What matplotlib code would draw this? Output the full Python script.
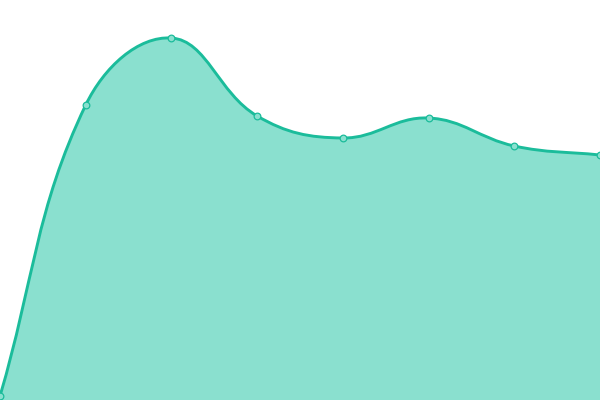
import numpy as np
import matplotlib
matplotlib.use('Agg')
import matplotlib.pyplot as plt
from matplotlib.path import Path
from matplotlib.patches import PathPatch

# values (pixel-height scale, 0..400)
labels = ['1', '2', '3', '4', '5', '6', '7', '8']
values = [4, 295, 362, 284, 262, 282, 254, 245]

line_color = '#1bbc9b'
fill_color = '#8ae0cf'
tension = 0.4


def spline_controls(pts, t):
    # chart.js style spline control points (pixel space)
    n = len(pts)
    ctrl = []
    for i in range(n):
        cur = pts[i]
        prev = pts[i - 1] if i > 0 else cur
        nxt = pts[i + 1] if i < n - 1 else cur
        d01 = np.hypot(*(cur - prev))
        d12 = np.hypot(*(nxt - cur))
        tot = d01 + d12
        s01 = d01 / tot if tot else 0
        s12 = d12 / tot if tot else 0
        c_prev = cur - t * s01 * (nxt - prev)
        c_next = cur + t * s12 * (nxt - prev)
        ctrl.append((c_prev, c_next))
    return ctrl


fig = plt.figure(figsize=(6, 4), dpi=100)
ax = fig.add_axes([0, 0, 1, 1])
x = np.arange(len(values))
ax.set_xlim(0, len(values) - 1)
ax.set_ylim(0, 400)
ax.axis('off')

pix = ax.transData.transform(np.column_stack([x, values]))
ctrl = spline_controls(pix, tension)
verts = [pix[0]]
codes = [Path.MOVETO]
for i in range(len(pix) - 1):
    verts += [ctrl[i][1], ctrl[i + 1][0], pix[i + 1]]
    codes += [Path.CURVE4] * 3
verts = ax.transData.inverted().transform(np.array(verts))

line_path = Path(verts, codes)
fill_verts = np.vstack([verts, [[x[-1], 0], [x[0], 0], verts[0]]])
fill_codes = codes + [Path.LINETO, Path.LINETO, Path.CLOSEPOLY]
ax.add_patch(PathPatch(Path(fill_verts, fill_codes), facecolor=fill_color,
                       edgecolor='none', zorder=1))
ax.add_patch(PathPatch(line_path, facecolor='none', edgecolor=line_color,
                       linewidth=2.1, zorder=2))
ax.plot(x, values, linestyle='none', marker='o', markersize=4.8,
        markerfacecolor=fill_color, markeredgecolor=line_color,
        markeredgewidth=0.9, zorder=3, clip_on=False)

fig.savefig('out.png', dpi=100)
